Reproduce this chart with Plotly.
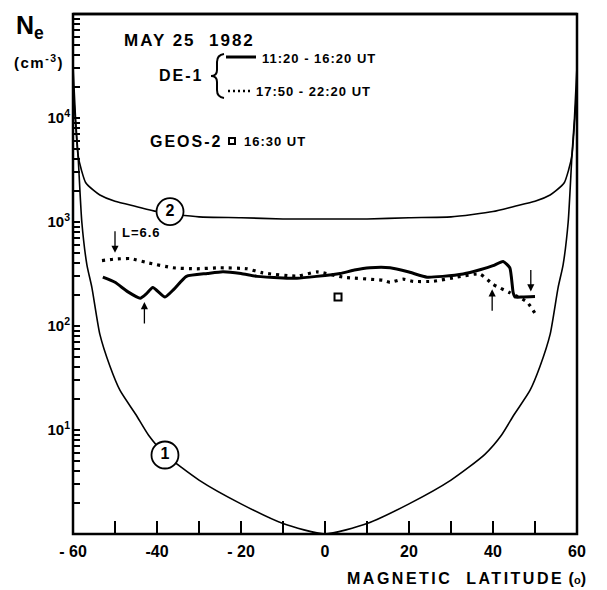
import math
import plotly.graph_objects as go

# ---------------- data ----------------
model_lat_1 = [-60, -59.4, -58.8, -57.9, -56.7, -55.5, -53.6, -51.2, -48.8, -45, -42, -38, -30, -20, -10, 0,
               10, 20, 30, 38, 42, 45, 48.8, 51.2, 53.6, 55.5, 56.7, 57.9, 58.8, 59.4, 60]
model_ne_1 = [31600, 10000, 4400, 1000, 390, 234, 83, 41, 24, 14, 8.9, 5.8, 3.3, 1.95, 1.26, 1.0,
              1.26, 1.95, 3.3, 5.8, 8.9, 14, 24, 41, 83, 234, 390, 1000, 4400, 10000, 31600]

model_lat_2 = [-60, -59.4, -58.8, -58, -57, -55, -53.6, -50, -45, -40, -30, -20, -10, 0,
               10, 20, 30, 40, 45, 50, 53.6, 55, 57, 58, 58.8, 59.4, 60]
model_ne_2 = [20000, 8900, 4400, 3160, 2400, 2000, 1820, 1580, 1410, 1260, 1120, 1100, 1070, 1070,
              1070, 1100, 1120, 1260, 1410, 1580, 1820, 2000, 2400, 3160, 4400, 8900, 20000]

de1_solid_lat = [-52.9, -50, -47, -44, -42.5, -41, -38.1, -36, -33, -28, -24.3, -20, -16.2, -10, -6.7, -2,
                 3.6, 7, 10.7, 15.5, 20, 24.3, 28, 32.9, 36.9, 40, 42.4, 44, 44.8, 45.2, 47, 50]
de1_solid_ne = [295, 263, 214, 185, 205, 235, 190, 225, 300, 320, 333, 320, 300, 290, 288, 300,
                320, 345, 363, 363, 330, 295, 300, 316, 347, 380, 417, 363, 209, 190, 190, 192]

de1_dot_lat = [-53.1, -50, -46.4, -42.4, -36.2, -30.5, -25, -18.6, -14.8, -6.7, -1.9, 4.3, 13.8, 15.5,
               18.6, 21, 25.8, 31.4, 36.9, 40, 44, 48.1, 50.5]
de1_dot_ne = [426, 440, 445, 407, 363, 355, 363, 355, 324, 302, 331, 295, 275, 263,
              282, 269, 269, 295, 316, 251, 209, 170, 123]

geos_lat = [3.1]
geos_ne = [190]

curve_label_lat = [-38.1, -36.9]
curve_label_ne = [5.75, 1260]
curve_label_txt = ["1", "2"]

# arrows: (lat, Ne at tip, direction: +1 = pointing down, -1 = pointing up)
arrow_lat = [-50, -43, 39.8, 49]
arrow_ne = [505, 170, 225, 215]
arrow_dir = [1, -1, -1, 1]

x_tickvals = [-60, -50, -40, -30, -20, -10, 0, 10, 20, 30, 40, 50, 60]
x_ticktext = ["- 60", "", "-40", "", "- 20", "", "0", "", "20", "", "40", "", "60"]
decades = [1, 10, 100, 1000, 10000]
decade_labels = {10: "10<sup>1</sup>", 100: "10<sup>2</sup>", 1000: "10<sup>3</sup>", 10000: "10<sup>4</sup>"}

# ---------------- layout geometry (screen pixels of the reference) ----------------
FW, FH = 607, 590
L, R, T, B = 73, 577, 14, 534
W, H = R - L, B - T


def px(x):
    return (x - L) / W


def py(y):
    return (B - y) / H


FONT = "Liberation Sans, Arial, Helvetica, sans-serif"
BOLD = dict(family=FONT, color="black", weight="bold")
fig = go.Figure()

fig.add_trace(go.Scatter(x=model_lat_1, y=model_ne_1, mode="lines",
                         line=dict(color="black", width=1.6, shape="spline", smoothing=0.6),
                         hoverinfo="skip", showlegend=False))
fig.add_trace(go.Scatter(x=model_lat_2, y=model_ne_2, mode="lines",
                         line=dict(color="black", width=1.6, shape="spline", smoothing=0.6),
                         hoverinfo="skip", showlegend=False))
fig.add_trace(go.Scatter(x=de1_dot_lat, y=de1_dot_ne, mode="lines",
                         line=dict(color="black", width=3.2, dash="3px,5px", shape="spline", smoothing=0.5),
                         showlegend=False))
fig.add_trace(go.Scatter(x=de1_solid_lat, y=de1_solid_ne, mode="lines",
                         line=dict(color="black", width=3, shape="spline", smoothing=0.5),
                         showlegend=False))
fig.add_trace(go.Scatter(x=geos_lat, y=geos_ne, mode="markers",
                         marker=dict(symbol="square-open", size=7, color="black", line=dict(width=2)),
                         showlegend=False))
fig.add_trace(go.Scatter(x=curve_label_lat, y=curve_label_ne, mode="markers+text",
                         text=curve_label_txt, textposition="middle center",
                         textfont=dict(BOLD, size=16),
                         marker=dict(symbol="circle", size=27, color="white",
                                     line=dict(color="black", width=1.8)),
                         showlegend=False))

annotations = []
for lat, ne, d in zip(arrow_lat, arrow_ne, arrow_dir):
    annotations.append(dict(x=lat, y=math.log10(ne), xref="x", yref="y",
                            ax=0, ay=-23 * d, text="", showarrow=True,
                            arrowhead=2, arrowsize=1.1, arrowwidth=1.3, arrowcolor="black"))


def label(x, y, text, size, anchor="left", spacing=None):
    if spacing:
        text = f"<span style='letter-spacing:{spacing}px'>" + text + "</span>"
    annotations.append(dict(x=px(x), y=py(y), xref="paper", yref="paper", text=text,
                            showarrow=False, xanchor=anchor, yanchor="middle", font=dict(BOLD, size=size)))


label(120, 233, "L=6.6", 13, spacing=1)
label(14, 27, "N<sub>e</sub>", 25)
label(12, 61, "(cm<sup>-3</sup>)", 15, spacing=1.5)
label(588, 578, "<span style='letter-spacing:2.5px'>MAGNETIC  LATITUDE</span> "
      "(<span style='font-size:11px'>o</span>)", 16, "right")
label(122, 40, "MAY 25  1982", 17, spacing=2)
label(157, 75, "DE-1", 16, spacing=2)
label(260, 58, "11:20 - 16:20 UT", 13, spacing=1)
label(254, 91, "17:50 - 22:20 UT", 13, spacing=1)
label(148, 141, "GEOS-2", 16, spacing=2)
label(242, 141, "16:30 UT", 13, spacing=1)

# brace drawn as a path (pixel points converted to paper coordinates)
brace_pts = [("M", 224, 54), ("Q", 217, 55, 217, 62), ("L", 217, 70), ("Q", 217, 76, 211, 76),
             ("Q", 217, 76, 217, 82), ("L", 217, 90), ("Q", 217, 97, 224, 98)]
path = ""
for seg in brace_pts:
    cmd, coords = seg[0], seg[1:]
    pts = []
    for i in range(0, len(coords), 2):
        pts.append(f"{px(coords[i]):.5f},{py(coords[i + 1]):.5f}")
    path += cmd + " " + " ".join(pts) + " "

shapes = [
    # plot frame
    dict(type="rect", xref="paper", yref="paper", x0=0, x1=1, y0=0, y1=1, layer="above",
         line=dict(color="black", width=2.5)),
    dict(type="line", xref="paper", yref="paper", x0=0, x1=1, y0=1, y1=1, layer="above",
         line=dict(color="black", width=2.5)),
    dict(type="path", xref="paper", yref="paper", path=path.strip(), line=dict(color="black", width=2)),
    dict(type="line", xref="paper", yref="paper", x0=px(226), x1=px(256), y0=py(57), y1=py(57),
         line=dict(color="black", width=3)),
    dict(type="line", xref="paper", yref="paper", x0=px(228), x1=px(252), y0=py(91), y1=py(91),
         line=dict(color="black", width=2.5, dash="2px,3px")),
    dict(type="rect", xref="paper", yref="paper", x0=px(229), x1=px(235), y0=py(138), y1=py(144),
         line=dict(color="black", width=2)),
]

y_tickvals = [m * d for d in decades for m in range(1, 10)] + [100000]
y_ticktext = [decade_labels.get(v, "") for v in y_tickvals]

fig.update_layout(
    width=FW, height=FH,
    margin=dict(l=L, r=FW - R, t=T, b=FH - B, autoexpand=False),
    paper_bgcolor="white", plot_bgcolor="white",
    showlegend=False,
    annotations=annotations,
    shapes=shapes,
    xaxis=dict(range=[-60, 60], tickmode="array", tickvals=x_tickvals, ticktext=x_ticktext,
               ticks="inside", ticklen=13, tickwidth=2, tickcolor="black",
               showline=False, showgrid=False, zeroline=False, ticklabelstandoff=6,
               tickfont=dict(BOLD, size=16)),
    yaxis=dict(type="log", range=[0, 5], tickmode="array", tickvals=y_tickvals, ticktext=y_ticktext,
               ticks="inside", ticklen=7, tickwidth=2, tickcolor="black",
               showline=False, showgrid=False, zeroline=False, ticklabelstandoff=2,
               tickfont=dict(BOLD, size=15)),
)

# remove the browser's default page margin so the figure sits at the window's top-left corner
fig.write_html("out.html", config={"displayModeBar": False},
               post_script="document.body.style.margin='0px';")
